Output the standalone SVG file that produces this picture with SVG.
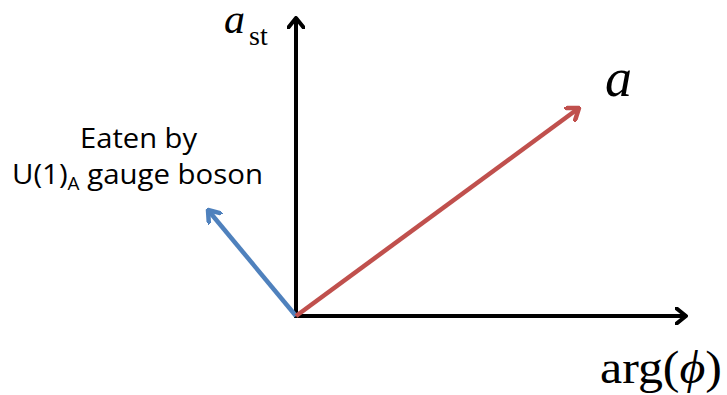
<svg xmlns="http://www.w3.org/2000/svg" width="727" height="395" viewBox="0 0 727 395">
<style>
.ax{stroke:#000;stroke-width:4;fill:none}
.red{stroke:#C0504D;stroke-width:4.5;fill:none}
.blue{stroke:#4F81BD;stroke-width:4.5;fill:none}
.m{font-family:"Liberation Serif",serif}
.s{font-family:"Open Sans","Noto Sans",sans-serif;font-size:28px;fill:#000}
</style>
<defs>
<marker id="hk" viewBox="-11 -9 13 18" markerWidth="13" markerHeight="18" refX="0" refY="0" orient="auto" markerUnits="userSpaceOnUse">
<polyline points="-10,-8 0,0 -10,8" fill="none" stroke="#000" stroke-width="4" stroke-linecap="round" stroke-linejoin="round"/>
</marker>
<marker id="hr" viewBox="-12 -9 14 18" markerWidth="14" markerHeight="18" refX="0" refY="0" orient="auto" markerUnits="userSpaceOnUse">
<polyline points="-11,-8 0,0 -11,8" fill="none" stroke="#C0504D" stroke-width="4.5" stroke-linecap="round" stroke-linejoin="round"/>
</marker>
<marker id="hb" viewBox="-12 -9 14 18" markerWidth="14" markerHeight="18" refX="0" refY="0" orient="auto" markerUnits="userSpaceOnUse">
<polyline points="-11,-8 0,0 -11,8" fill="none" stroke="#4F81BD" stroke-width="4.5" stroke-linecap="round" stroke-linejoin="round"/>
</marker>
</defs>
<g id="connectors">
<line class="ax" x1="296" y1="318" x2="296" y2="18" marker-end="url(#hk)"/>
<line class="ax" x1="294" y1="316" x2="686" y2="316" marker-end="url(#hk)"/>
<line class="blue" x1="296" y1="316" x2="208" y2="210" marker-end="url(#hb)"/>
<line class="red" x1="296" y1="316" x2="579" y2="108" marker-end="url(#hr)"/>
</g>
<g id="label-ast">
<text class="m" x="224" y="33" font-size="42" font-style="italic">a</text>
<text class="m" x="249" y="45" font-size="28">st</text>
</g>
<g id="label-a">
<text class="m" x="605" y="96" font-size="54" font-style="italic">a</text>
</g>
<g id="label-arg">
<text class="m" x="600" y="383" font-size="46" textLength="122" lengthAdjust="spacingAndGlyphs">arg(<tspan font-style="italic">ϕ</tspan>)</text>
</g>
<g id="label-eaten">
<text class="s" x="80" y="148" textLength="117" lengthAdjust="spacingAndGlyphs">Eaten by</text>
<text class="s" x="12" y="184" textLength="251" lengthAdjust="spacingAndGlyphs">U(1)<tspan font-size="18" dy="6">A</tspan><tspan dy="-6"> gauge boson</tspan></text>
</g>
</svg>
